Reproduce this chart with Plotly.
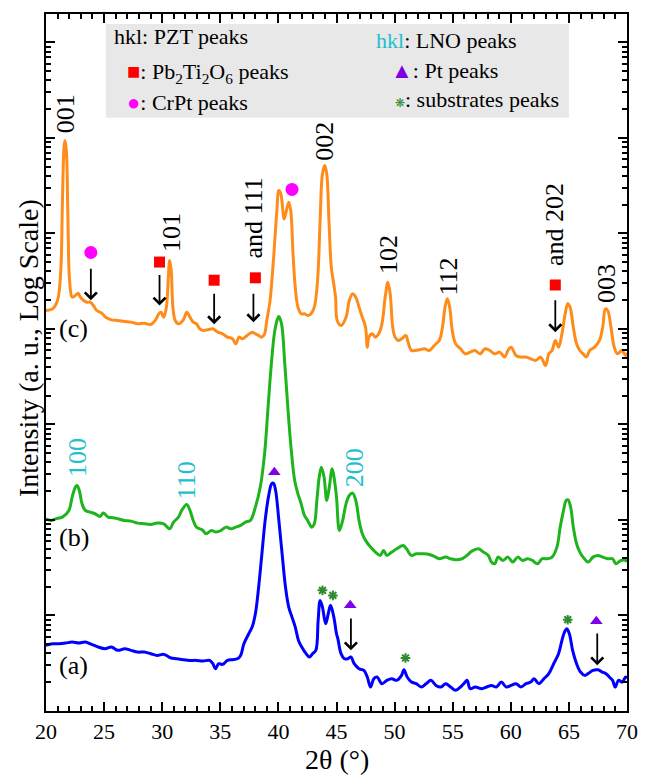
import plotly.graph_objects as go

# ---------------- data (2theta in degrees, log10 of intensity in a.u.) ----------------
c_2theta = [20.00, 20.56, 20.99, 21.27, 21.41, 21.55, 21.63, 21.75, 21.89, 22.03, 22.25, 22.53, 22.76, 22.96,
            23.24, 23.52, 23.80, 24.08, 24.36, 24.79, 25.21, 25.63, 26.19, 26.76, 27.32, 27.88, 28.45, 29.01,
            29.43, 29.71, 29.91, 30.13, 30.36, 30.53, 30.64, 30.78, 30.92, 31.12, 31.40, 31.82, 32.11, 32.39,
            32.67, 32.95, 33.23, 33.51, 33.94, 34.36, 34.78, 35.20, 35.62, 36.05, 36.33, 36.61, 36.89, 37.31,
            37.74, 38.02, 38.30, 38.58, 38.81, 39.00, 39.28, 39.57, 39.85, 40.04, 40.21, 40.50, 40.69, 40.89,
            41.06, 41.26, 41.45, 41.68, 41.96, 42.24, 42.52, 42.80, 43.09, 43.37, 43.59, 43.79, 43.99, 44.16,
            44.35, 44.55, 44.75, 44.92, 45.06, 45.39, 45.82, 46.10, 46.38, 46.66, 46.94, 47.22, 47.50, 47.65,
            47.79, 48.07, 48.35, 48.63, 48.91, 49.19, 49.42, 49.62, 49.84, 50.04, 50.32, 50.60, 50.97, 51.16,
            51.45, 51.73, 52.15, 52.57, 52.99, 53.42, 53.84, 54.12, 54.34, 54.54, 54.74, 54.96, 55.25, 55.67,
            56.09, 56.51, 56.93, 57.36, 57.78, 58.20, 58.62, 59.05, 59.47, 59.75, 60.03, 60.45, 60.88, 61.30,
            61.72, 62.14, 62.57, 62.99, 63.27, 63.55, 63.83, 64.11, 64.40, 64.68, 64.90, 65.10, 65.38, 65.66,
            65.94, 66.22, 66.51, 66.79, 67.21, 67.63, 67.91, 68.14, 68.34, 68.62, 68.90, 69.18, 69.55, 69.88,
            70.00]
c_logI = [4.193, 4.210, 4.297, 4.611, 5.309, 5.902, 5.972, 5.867, 5.135, 4.507, 4.332, 4.350, 4.374, 4.332,
          4.297, 4.280, 4.280, 4.245, 4.193, 4.165, 4.116, 4.095, 4.088, 4.078, 4.071, 4.053, 4.060, 4.046,
          4.095, 4.158, 4.175, 4.123, 4.228, 4.542, 4.716, 4.611, 4.228, 4.088, 4.053, 4.095, 4.175, 4.123,
          4.071, 4.053, 4.001, 3.984, 3.991, 4.001, 3.966, 3.949, 3.914, 3.896, 3.844, 3.914, 3.896, 3.931,
          3.966, 3.949, 3.931, 3.914, 3.949, 4.088, 4.297, 4.716, 5.204, 5.449, 5.414, 5.152, 5.239, 5.326,
          5.239, 4.786, 4.437, 4.228, 4.158, 4.158, 4.141, 4.158, 4.228, 4.507, 5.135, 5.623, 5.710, 5.623,
          5.135, 4.650, 4.480, 4.330, 4.088, 4.036, 4.123, 4.297, 4.367, 4.332, 4.228, 4.123, 4.018, 3.809,
          3.914, 3.949, 3.914, 3.949, 4.053, 4.332, 4.489, 4.367, 4.018, 3.914, 3.879, 3.896, 3.931, 3.861,
          3.774, 3.774, 3.781, 3.792, 3.774, 3.827, 3.879, 4.018, 4.228, 4.315, 4.228, 3.984, 3.844, 3.792,
          3.739, 3.757, 3.774, 3.739, 3.792, 3.774, 3.739, 3.757, 3.705, 3.774, 3.809, 3.722, 3.705, 3.705,
          3.687, 3.670, 3.705, 3.617, 3.739, 3.774, 3.879, 3.809, 3.949, 4.158, 4.263, 4.228, 4.018, 3.844,
          3.774, 3.739, 3.705, 3.774, 3.809, 3.879, 4.018, 4.210, 4.193, 4.018, 3.809, 3.739, 3.774, 3.722,
          3.750]

b_2theta = [20.00, 20.42, 20.84, 21.41, 21.97, 22.25, 22.53, 22.67, 22.87, 23.10, 23.38, 23.80, 24.22, 24.65,
            24.93, 25.35, 25.77, 26.19, 26.76, 27.32, 27.88, 28.45, 29.01, 29.57, 30.13, 30.64, 30.98, 31.40,
            31.68, 32.11, 32.39, 32.67, 32.95, 33.23, 33.51, 33.79, 34.22, 34.64, 35.06, 35.48, 35.91, 36.33,
            36.75, 37.17, 37.59, 38.02, 38.44, 38.81, 39.09, 39.37, 39.65, 39.88, 40.04, 40.27, 40.55, 40.83,
            41.11, 41.40, 41.68, 41.96, 42.24, 42.52, 42.86, 43.09, 43.31, 43.51, 43.70, 43.93, 44.16, 44.38,
            44.63, 44.83, 45.00, 45.25, 45.53, 45.82, 46.10, 46.38, 46.66, 46.94, 47.22, 47.50, 47.93, 48.35,
            48.77, 49.05, 49.33, 49.76, 50.18, 50.74, 51.02, 51.45, 51.87, 52.43, 52.99, 53.42, 53.84, 54.40,
            54.82, 55.25, 55.81, 56.23, 56.65, 57.22, 57.64, 58.06, 58.34, 58.62, 58.90, 59.33, 59.75, 60.17,
            60.59, 61.02, 61.44, 61.86, 62.28, 62.71, 63.13, 63.55, 63.97, 64.25, 64.54, 64.76, 64.93, 65.15,
            65.38, 65.66, 65.94, 66.22, 66.65, 67.07, 67.49, 67.91, 68.34, 68.76, 69.04, 69.46, 69.88, 70.00]
b_logI = [2.012, 1.995, 2.012, 2.030, 2.100, 2.239, 2.344, 2.361, 2.309, 2.169, 2.100, 2.082, 2.065, 2.037,
          2.072, 2.030, 2.023, 2.012, 1.995, 1.988, 1.967, 1.960, 1.953, 1.967, 1.960, 1.908, 1.977, 2.030,
          2.100, 2.162, 2.100, 1.995, 1.925, 1.908, 1.890, 1.855, 1.890, 1.873, 1.890, 1.925, 1.908, 1.925,
          1.943, 1.977, 1.995, 2.134, 2.344, 2.692, 3.146, 3.599, 3.948, 4.088, 4.130, 4.053, 3.634, 3.146,
          2.727, 2.413, 2.274, 2.169, 2.047, 1.995, 1.925, 1.960, 2.204, 2.448, 2.553, 2.448, 2.204, 2.344,
          2.536, 2.413, 2.239, 1.890, 1.995, 2.169, 2.256, 2.281, 2.204, 1.995, 1.855, 1.786, 1.716, 1.664,
          1.629, 1.681, 1.629, 1.664, 1.698, 1.733, 1.698, 1.629, 1.646, 1.646, 1.639, 1.618, 1.594, 1.611,
          1.594, 1.583, 1.594, 1.629, 1.674, 1.698, 1.664, 1.629, 1.559, 1.541, 1.611, 1.576, 1.611, 1.559,
          1.611, 1.576, 1.594, 1.576, 1.541, 1.594, 1.594, 1.611, 1.716, 1.925, 2.100, 2.204, 2.211, 2.134,
          1.925, 1.751, 1.664, 1.611, 1.559, 1.611, 1.629, 1.611, 1.594, 1.594, 1.541, 1.576, 1.576, 1.560]

a_2theta = [20.00, 20.56, 21.13, 21.69, 22.25, 22.82, 23.38, 23.94, 24.50, 25.07, 25.63, 26.19, 26.76, 27.32,
            27.88, 28.45, 29.01, 29.57, 30.13, 30.70, 31.26, 31.82, 32.39, 32.95, 33.51, 34.08, 34.36, 34.58,
            34.86, 35.20, 35.62, 36.05, 36.47, 36.75, 37.03, 37.45, 37.74, 38.02, 38.30, 38.58, 38.86, 39.14,
            39.42, 39.57, 39.76, 40.04, 40.32, 40.61, 40.89, 41.17, 41.45, 41.73, 42.01, 42.38, 42.66, 42.94,
            43.22, 43.42, 43.59, 43.79, 44.07, 44.29, 44.49, 44.77, 45.00, 45.11, 45.39, 45.67, 45.96, 46.24,
            46.52, 46.94, 47.36, 47.65, 47.93, 48.21, 48.49, 48.91, 49.33, 49.76, 50.18, 50.60, 50.80, 51.08,
            51.45, 51.87, 52.29, 52.71, 53.13, 53.56, 53.98, 54.40, 54.82, 55.25, 55.67, 55.95, 56.23, 56.51,
            56.93, 57.50, 57.92, 58.34, 58.76, 59.19, 59.61, 60.03, 60.45, 60.88, 61.30, 61.72, 62.00, 62.42,
            62.85, 63.27, 63.69, 64.11, 64.40, 64.62, 64.82, 65.04, 65.32, 65.66, 66.00, 66.36, 66.65, 67.07,
            67.49, 67.86, 68.20, 68.48, 68.76, 68.98, 69.27, 69.60, 69.88, 70.00]
a_logI = [0.687, 0.704, 0.704, 0.711, 0.722, 0.711, 0.722, 0.697, 0.670, 0.652, 0.670, 0.635, 0.652, 0.635,
          0.617, 0.617, 0.600, 0.582, 0.593, 0.558, 0.547, 0.537, 0.530, 0.530, 0.523, 0.530, 0.495, 0.443,
          0.495, 0.488, 0.530, 0.537, 0.547, 0.582, 0.704, 0.809, 0.879, 1.018, 1.297, 1.646, 1.995, 2.239,
          2.379, 2.386, 2.309, 1.995, 1.646, 1.297, 1.088, 0.983, 0.879, 0.739, 0.670, 0.600, 0.565, 0.600,
          0.635, 0.949, 1.158, 1.088, 0.914, 1.018, 1.106, 0.983, 0.809, 0.760, 0.600, 0.547, 0.547, 0.565,
          0.495, 0.443, 0.425, 0.356, 0.251, 0.338, 0.356, 0.286, 0.321, 0.338, 0.321, 0.373, 0.432, 0.356,
          0.303, 0.286, 0.251, 0.286, 0.321, 0.268, 0.251, 0.286, 0.251, 0.216, 0.251, 0.286, 0.321, 0.233,
          0.251, 0.233, 0.251, 0.268, 0.251, 0.303, 0.251, 0.268, 0.286, 0.251, 0.286, 0.303, 0.338, 0.286,
          0.338, 0.391, 0.495, 0.600, 0.739, 0.826, 0.861, 0.809, 0.635, 0.495, 0.408, 0.373, 0.391, 0.425,
          0.432, 0.408, 0.391, 0.356, 0.321, 0.251, 0.321, 0.303, 0.356, 0.340]

# peak markers (2theta, log10 intensity)
crpt_2theta = [23.86, 41.17]
crpt_logI = [4.80, 5.46]
pbti_2theta = [29.77, 34.47, 38.02, 63.83]
pbti_logI = [4.70, 4.51, 4.535, 4.46]
pt_2theta = [39.65, 46.18, 67.36]
pt_logI = [2.50, 1.106, 0.94]
sub_2theta = [43.79, 44.69, 50.94, 64.90]
sub_logI = [1.263, 1.21, 0.555, 0.956]

# arrows: (2theta, log10 of tip, log10 of tail)
arrow_2theta = [23.86, 29.77, 34.47, 37.85, 63.83, 46.24, 67.44]
arrow_tip = [4.30, 4.245, 4.05, 4.07, 3.966, 0.635, 0.478]
arrow_tail = [4.645, 4.58, 4.385, 4.385, 4.315, 0.984, 0.827]

# hkl labels
pzt_labels = ["001", "101", "and 111", "002", "102", "112", "and 202", "003"]
pzt_2theta = [21.65, 30.8, 37.9, 44.0, 49.48, 54.6, 63.83, 68.2]
pzt_logI = [6.25, 5.01, 5.155, 5.97, 4.78, 4.55, 5.09, 4.47]
lno_labels = ["100", "110", "200"]
lno_2theta = [22.76, 32.1, 46.5]
lno_logI = [2.65, 2.41, 2.55]
sample_labels = ["(a)", "(b)", "(c)"]
sample_2theta = [22.4, 22.4, 22.35]
sample_logI = [0.479, 1.815, 4.0]

x_major = [20, 25, 30, 35, 40, 45, 50, 55, 60, 65, 70]

# ---------------- figure ----------------
FONT = "Liberation Serif"
ORANGE = "#FF8C1A"
GREEN = "#1EB41E"
BLUE = "#0000FF"
CYAN = "#22C0CC"
MAGENTA = "#FF00FF"
RED = "#FF0000"
PURPLE = "#7F00E6"
SUBGREEN = "#2E8B2E"


def lin(vals):
    return [10 ** v for v in vals]


fig = go.Figure()
for xs, ls, col in [(a_2theta, a_logI, BLUE), (b_2theta, b_logI, GREEN), (c_2theta, c_logI, ORANGE)]:
    fig.add_trace(go.Scatter(x=xs, y=lin(ls), mode="lines", line=dict(color=col, width=3),
                             line_shape="spline", hoverinfo="skip", showlegend=False))

fig.add_trace(go.Scatter(x=crpt_2theta, y=lin(crpt_logI), mode="markers",
                         marker=dict(symbol="circle", size=13, color=MAGENTA), showlegend=False))
fig.add_trace(go.Scatter(x=pbti_2theta, y=lin(pbti_logI), mode="markers",
                         marker=dict(symbol="square", size=11, color=RED), showlegend=False))
fig.add_trace(go.Scatter(x=pt_2theta, y=lin(pt_logI), mode="markers",
                         marker=dict(symbol="triangle-up", size=11, color=PURPLE), showlegend=False))
fig.add_trace(go.Scatter(x=sub_2theta, y=lin(sub_logI), mode="markers",
                         marker=dict(symbol="asterisk-open", size=8, color=SUBGREEN,
                                     line=dict(color=SUBGREEN, width=2)),
                         showlegend=False))

ann = []
for x, t, tl in zip(arrow_2theta, arrow_tip, arrow_tail):
    ann.append(dict(x=x, y=t, ax=x, ay=tl, xref="x", yref="y", axref="x", ayref="y", text="",
                    showarrow=True, arrowhead=4, arrowsize=1.3, arrowwidth=1.8, arrowcolor="black",
                    standoff=0, startstandoff=0))
for lab, x, l in zip(pzt_labels, pzt_2theta, pzt_logI):
    ann.append(dict(x=x, y=l, xref="x", yref="y", text=lab, showarrow=False, textangle=-90,
                    font=dict(family=FONT, size=26, color="black"), xanchor="center", yanchor="middle"))
for lab, x, l in zip(lno_labels, lno_2theta, lno_logI):
    ann.append(dict(x=x, y=l, xref="x", yref="y", text=lab, showarrow=False, textangle=-90,
                    font=dict(family=FONT, size=26, color=CYAN), xanchor="center", yanchor="middle"))
for lab, x, l in zip(sample_labels, sample_2theta, sample_logI):
    ann.append(dict(x=x, y=l, xref="x", yref="y", text=lab, showarrow=False,
                    font=dict(family=FONT, size=26, color="black"), xanchor="center", yanchor="middle"))

# legend box contents
legend_items = [
    ("hkl: PZT peaks", 0.114, 0.9675),
    ("<span style='color:%s'>hkl</span>: LNO peaks" % CYAN, 0.565, 0.962),
    ("<span style='color:%s'>■</span>: Pb<sub>2</sub>Ti<sub>2</sub>O<sub>6</sub> peaks" % RED, 0.136, 0.915),
    ("<span style='color:%s'>▲</span>: Pt peaks" % PURPLE, 0.590, 0.919),
    ("<span style='color:%s'>●</span>: CrPt peaks" % MAGENTA, 0.136, 0.873),
    ("<span style='color:%s;font-size:12px'>❋</span>: substrates peaks" % SUBGREEN, 0.597, 0.878),
]
for txt, px, py in legend_items:
    ann.append(dict(x=px, y=py, xref="paper", yref="paper", text=txt, showarrow=False,
                    font=dict(family=FONT, size=22, color="black"), xanchor="left", yanchor="middle"))

# axis titles
ann.append(dict(x=-0.029, y=0.521, xref="paper", yref="paper", text="Intensity (a. u., Log Scale)",
                showarrow=False, textangle=-90, font=dict(family=FONT, size=28, color="black"),
                xanchor="center", yanchor="middle"))
ann.append(dict(x=0.5, y=-0.069, xref="paper", yref="paper", text="2θ (°)", showarrow=False,
                font=dict(family=FONT, size=28, color="black"), xanchor="center", yanchor="middle"))

y_major = [10 ** k for k in range(0, 8)]
y_minor = [m * 10 ** k for k in range(0, 8) for m in range(2, 10)]

fig.update_layout(
    width=650, height=777,
    margin=dict(l=46, r=12, t=13, b=66),
    paper_bgcolor="white", plot_bgcolor="white",
    font=dict(family=FONT),
    annotations=ann,
    shapes=[dict(type="rect", xref="paper", yref="paper", x0=0.103, x1=0.900, y0=0.851, y1=0.9857,
                 fillcolor="#E8E8E8", line=dict(width=0), layer="below")],
    xaxis=dict(range=[20, 70], tickmode="array", tickvals=x_major, ticktext=[str(v) for v in x_major],
               ticks="inside", ticklen=9, tickwidth=2, tickcolor="black",
               minor=dict(dtick=1, tick0=20, ticks="inside", ticklen=5, tickwidth=1.5, tickcolor="black"),
               showline=True, linewidth=2, linecolor="black", mirror="allticks", showgrid=False,
               zeroline=False, tickfont=dict(family=FONT, size=22, color="black")),
    yaxis=dict(type="log", range=[0, 7.297], tickmode="array", tickvals=y_major, showticklabels=False,
               ticks="inside", ticklen=9, tickwidth=2, tickcolor="black",
               minor=dict(tickmode="array", tickvals=y_minor, ticks="inside", ticklen=5, tickwidth=1.5,
                          tickcolor="black"),
               showline=True, linewidth=2, linecolor="black", mirror="allticks", showgrid=False,
               zeroline=False),
)

fig.write_html("out.html")
